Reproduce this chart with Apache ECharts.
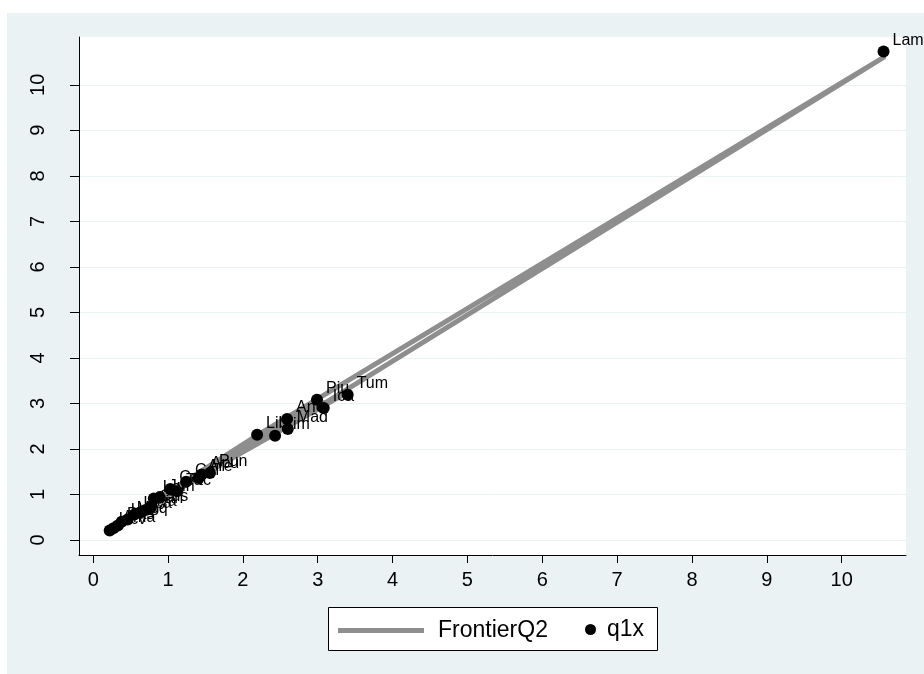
<!DOCTYPE html>
<html>
<head>
<meta charset="utf-8">
<title>FrontierQ2 vs q1x</title>
<script src="https://cdn.jsdelivr.net/npm/echarts@6/dist/echarts.min.js"></script>
<style>
  html, body { margin: 0; padding: 0; background: #ffffff; }
  #chart { width: 924px; height: 674px; }
</style>
</head>
<body>
<div id="chart"></div>
<script>
// Regions in data order (the frontier line is connected in this order)
const regions = ['Ama','Anc','Apu','Are','Aya','Caj','Cal','Cus','Hcv','Hco','Ica','Jun','Lib','Lam','Lim','Lor','Mad','Moq','Pas','Piu','Pun','San','Tac','Tum','Uca'];
// Input (horizontal axis)
const inputX = [0.27,2.59,1.45,1.41,0.63,1.03,1.24,0.77,0.22,0.38,3.08,0.89,2.19,10.56,2.43,0.81,2.60,0.46,0.33,2.99,1.56,0.70,1.12,3.40,0.55];
// Observed output
const q1x = [0.26,2.66,1.44,1.36,0.61,1.12,1.28,0.72,0.21,0.40,2.90,0.93,2.31,10.73,2.29,0.91,2.44,0.45,0.32,3.08,1.47,0.66,1.07,3.19,0.56];
// Frontier output
const frontierQ2 = [0.29,2.62,1.45,1.38,0.64,1.07,1.22,0.78,0.24,0.40,3.02,0.93,2.30,10.60,2.33,0.83,2.50,0.48,0.35,3.02,1.50,0.71,1.12,3.25,0.57];
// Axis tick values
const xTicks = [0,1,2,3,4,5,6,7,8,9,10];
const yTicks = [0,1,2,3,4,5,6,7,8,9,10];

const FONT = 'Liberation Sans, Arial, Helvetica, sans-serif';

const chart = echarts.init(document.getElementById('chart'), null, { renderer: 'canvas' });

const lineData = inputX.map((x, i) => [x, frontierQ2[i]]);
const pointData = inputX.map((x, i) => ({ value: [x, q1x[i]], name: regions[i] }));

chart.setOption({
  animation: false,
  backgroundColor: '#ffffff',
  graphic: [
    { type: 'rect', z: -10, shape: { x: 7, y: 13, width: 917, height: 661 }, style: { fill: '#EAF2F3' } },
    { type: 'rect', z: 1, shape: { x: 328.5, y: 607.5, width: 329, height: 43 }, style: { fill: '#ffffff', stroke: '#000000', lineWidth: 1 } }
  ],
  grid: {
    left: 79, top: 37, right: 18, bottom: 119,
    show: true, backgroundColor: '#ffffff', borderWidth: 0
  },
  legend: [
    {
      data: [{ name: 'FrontierQ2', icon: 'rect' }],
      left: 333, top: 614,
      itemWidth: 86, itemHeight: 5,
      itemStyle: { color: '#8E8E8E' },
      textStyle: { fontFamily: FONT, fontSize: 23, color: '#000', padding: [0, 0, 0, 9] },
      selectedMode: false
    },
    {
      data: [{ name: 'q1x', icon: 'circle' }],
      left: 580, top: 613,
      itemWidth: 11, itemHeight: 11,
      itemStyle: { color: '#000' },
      textStyle: { fontFamily: FONT, fontSize: 23, color: '#000', padding: [0, 0, 0, 6] },
      selectedMode: false
    }
  ],
  xAxis: {
    type: 'value',
    min: -0.19, max: 10.86,
    axisLine: { show: true, onZero: false, lineStyle: { color: '#000', width: 1 } },
    axisTick: { show: true, length: 8, lineStyle: { color: '#000' }, customValues: xTicks },
    axisLabel: { customValues: xTicks, fontFamily: FONT, fontSize: 20, color: '#000', margin: 15 },
    splitLine: { show: false }
  },
  yAxis: {
    type: 'value',
    min: -0.33, max: 11.05,
    axisLine: { show: true, onZero: false, lineStyle: { color: '#000', width: 1 } },
    axisTick: { show: true, length: 9, lineStyle: { color: '#000' }, customValues: yTicks },
    axisLabel: { customValues: yTicks, fontFamily: FONT, fontSize: 20, color: '#000', rotate: 90, margin: 31 },
    splitLine: { show: true, lineStyle: { color: '#EAF2F3', width: 1 } }
  },
  series: [
    {
      name: 'FrontierQ2',
      type: 'line',
      data: lineData,
      symbol: 'none',
      lineStyle: { color: '#8E8E8E', width: 5, join: 'round', cap: 'butt' },
      itemStyle: { color: '#8E8E8E' },
      z: 2
    },
    {
      name: 'q1x',
      type: 'scatter',
      data: pointData,
      symbol: 'circle',
      symbolSize: 12,
      itemStyle: { color: '#000', opacity: 1 },
      label: {
        show: true,
        position: [15, -13],
        align: 'left',
        verticalAlign: 'top',
        formatter: p => p.name,
        fontFamily: FONT, fontSize: 16, color: '#000'
      },
      labelLayout: { hideOverlap: false },
      z: 3
    }
  ]
});
</script>
</body>
</html>
